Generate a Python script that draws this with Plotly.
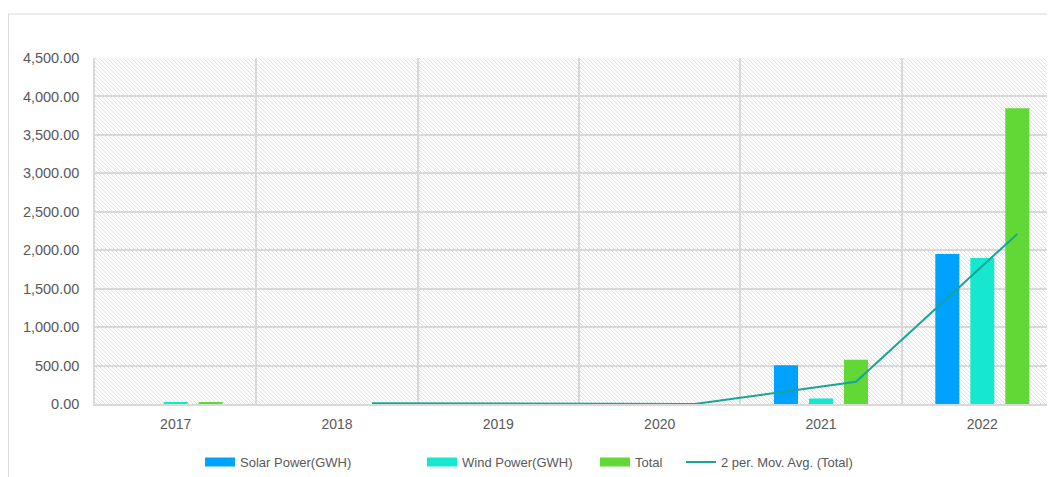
import base64
import pandas as pd
import plotly.graph_objects as go

years = ["2017", "2018", "2019", "2020", "2021", "2022"]
solar = [0, 0, 0, 0, 505, 1950]
wind = [16, 0, 0, 0, 72, 1898]
total = [18, 0, 0, 0, 577, 3848]
ma_period = 2
y_ticks = [0, 500, 1000, 1500, 2000, 2500, 3000, 3500, 4000, 4500]

series_names = ["Solar Power(GWH)", "Wind Power(GWH)", "Total"]
series_colors = ["#00A2FF", "#16E7CF", "#61D836"]
ma_name = "2 per. Mov. Avg. (Total)"
ma_color = "#16A596"

moving_avg = pd.Series(total).rolling(ma_period).mean().tolist()

idx = list(range(len(years)))
offset = 0.217
bar_w = 0.149

# legend anchor positions (paper x) for the four entries
legend_x = [0.1085, 0.3378, 0.5165, 0.6054]
legend_ids = ["legend", "legend2", "legend3", "legend4"]

fig = go.Figure()
for k, (vals, off, name, color) in enumerate(zip([solar, wind, total], [-offset, 0, offset],
                                                 series_names, series_colors)):
    fig.add_trace(go.Bar(x=[i + off for i in idx], y=vals, width=bar_w, name=name,
                         marker=dict(color=color, line=dict(width=0)),
                         legendgroup=name, showlegend=False))
    fig.add_trace(go.Scatter(x=[None], y=[None], mode="lines", name=name,
                             legendgroup=name, legend=legend_ids[k],
                             line=dict(color=color, width=9)))

fig.add_trace(go.Scatter(x=[i + offset for i in idx], y=moving_avg, mode="lines",
                         name=ma_name, legend=legend_ids[3],
                         line=dict(color=ma_color, width=2)))

svg = ('<svg xmlns="http://www.w3.org/2000/svg" width="968" height="346">'
       '<defs><pattern id="h" patternUnits="userSpaceOnUse" width="4" height="4">'
       '<path d="M-1,-1 L5,5 M-1,3 L1,5 M3,-1 L5,1" stroke="#dadada" stroke-width="0.85"/>'
       '</pattern></defs><rect width="968" height="346" fill="url(#h)"/></svg>')
uri = "data:image/svg+xml;base64," + base64.b64encode(svg.encode()).decode()

legend_style = dict(orientation="h", xanchor="left", y=-0.168, yanchor="middle",
                    font=dict(size=13, color="#595959"), itemwidth=30,
                    bgcolor="rgba(0,0,0,0)")

fig.update_layout(
    width=1055, height=477,
    margin=dict(l=87, r=0, t=50, b=81),
    paper_bgcolor="white", plot_bgcolor="white",
    barmode="overlay",
    font=dict(family="Liberation Sans, Arial, sans-serif", size=13, color="#595959"),
    images=[dict(source=uri, xref="paper", yref="paper", x=0, y=1, sizex=1, sizey=1,
                 xanchor="left", yanchor="top", sizing="stretch", layer="below")],
    showlegend=True,
    legend=dict(x=legend_x[0], **legend_style),
    legend2=dict(x=legend_x[1], **legend_style),
    legend3=dict(x=legend_x[2], **legend_style),
    legend4=dict(x=legend_x[3], **legend_style),
    shapes=[
        dict(type="line", xref="paper", yref="paper", x0=-0.09, x1=1.0, y0=1.127, y1=1.127,
             line=dict(color="#d9d9d9", width=1)),
        dict(type="line", xref="paper", yref="paper", x0=-0.0893, x1=-0.0893, y0=1.127, y1=-0.25,
             line=dict(color="#d9d9d9", width=1)),
    ],
)
fig.update_xaxes(
    range=[-0.5, 5.5], tickmode="array", tickvals=idx, ticktext=years,
    showgrid=False, zeroline=False, ticks="", showline=True, linecolor="#d9d9d9", linewidth=1.5,
    ticklabelstandoff=6, tickfont=dict(size=14, color="#595959"),
    minor=dict(tickmode="array", tickvals=[i - 0.5 for i in range(7)], showgrid=True,
               gridcolor="#d9d9d9", gridwidth=1.5, ticks=""),
)
fig.update_yaxes(
    range=[0, 4500], tickmode="array", tickvals=y_ticks, tickformat=",.2f",
    showgrid=True, gridcolor="#d9d9d9", gridwidth=1.5, zeroline=False,
    showline=True, linecolor="#d9d9d9", linewidth=1.5, ticks="",
    ticklabelstandoff=11, tickfont=dict(size=14.5, color="#595959"),
)

fig.write_html("out.html")
